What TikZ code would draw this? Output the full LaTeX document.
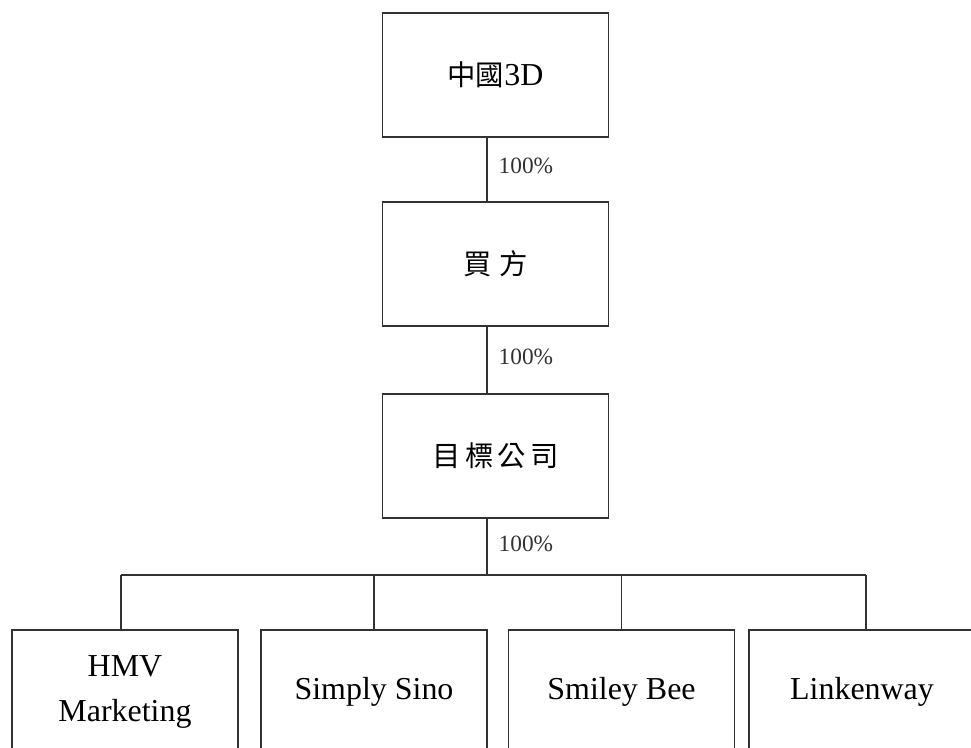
\documentclass[tikz,border=0pt]{standalone}
\usepackage{fontspec}
\setmainfont{Liberation Serif}
\newfontfamily\cjk{Noto Sans CJK TC}
\usetikzlibrary{positioning, calc}
\definecolor{cL}{RGB}{50,50,50}

\begin{document}
\begin{tikzpicture}[x=0.36pt, y=-0.36pt, line width=0.45pt,
                    company/.style={draw=cL, fill=white, minimum width=81.4pt, minimum height=44.6pt,
                                    inner sep=0pt, align=center, font=\fontsize{11.5}{16.5}\selectfont},
                    share/.style={right, inner sep=0pt, xshift=4pt, font=\fontsize{8.4}{10}\selectfont}]
    \clip (0,0) rectangle (971,747);
    \useasboundingbox (0,0) rectangle (971,747);

    % Holding chain
    \node[company] (china3d) at (495.5, 75)  {{\cjk\fontsize{10.2}{12}\selectfont 中國}3D};
    \node[company] (buyer)   at (495.5, 264) {{\cjk\fontsize{10.2}{12}\selectfont 買\hspace{0.25em}方}};
    \node[company] (target)  at (495.5, 456) {{\cjk\fontsize{10.2}{12}\selectfont 目\hspace{0.15em}標\hspace{0.15em}公\hspace{0.15em}司}};

    % Subsidiaries (cut off by the page edge)
    \node[company] (hmv)    at (125, 692)   {HMV\\Marketing};
    \node[company] (simply) at (374, 692)   {Simply Sino};
    \node[company] (smiley) at (621.5, 692) {Smiley Bee};
    \node[company] (linken) at (862, 692)   {Linkenway};

    % Ownership lines
    \coordinate (spine) at (487, 575);
    \draw[cL] (china3d.south -| spine) -- node[share, pos=0.45] {100\%} (buyer.north -| spine);
    \draw[cL] (buyer.south -| spine) -- node[share, pos=0.45] {100\%} (target.north -| spine);
    \draw[cL] (target.south -| spine) -- node[share, pos=0.45] {100\%} (spine);
    \draw[cL] ($(hmv.north |- spine)+(-4,0)$) -- ($(linken.north |- spine)+(4,0)$);
    \draw[cL] ($(hmv.north |- spine)+(-4,0)$) -- ($(hmv.north)+(-4,0)$);
    \foreach \sub in {simply, smiley}
        \draw[cL] (\sub.north |- spine) -- (\sub.north);
    \draw[cL] ($(linken.north |- spine)+(4,0)$) -- ($(linken.north)+(4,0)$);

\end{tikzpicture}
\end{document}
